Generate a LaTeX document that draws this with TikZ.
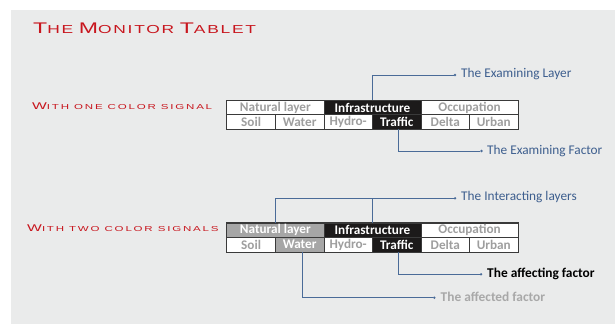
\documentclass[tikz,border=0pt]{standalone}
\usepackage{fontspec}
\setmainfont{Carlito}
\newfontfamily\headfont[FakeStretch=1.5,LetterSpace=15]{Liberation Sans}
\newfontfamily\signfont[FakeStretch=1.6,LetterSpace=25]{Liberation Sans}
\definecolor{panelbg}{HTML}{EAEBEB}
\definecolor{headred}{HTML}{C8161E}
\definecolor{leadblue}{HTML}{4A6B98}
\definecolor{leadtext}{HTML}{3D5E8E}
\definecolor{celltxt}{HTML}{9E9E9E}
\definecolor{cellgray}{HTML}{A6A6A6}
\definecolor{celldark}{HTML}{1C1A1A}
\definecolor{cellline}{HTML}{3A3A3A}
\definecolor{faded}{HTML}{A8A8A8}
% fake small caps: capital and lower-case sizes
\newcommand{\hdBig}[1]{{\fontsize{15.4}{16}\selectfont #1}}
\newcommand{\hdSml}[1]{{\fontsize{11.6}{12}\selectfont #1}}
\newcommand{\sgBig}[1]{{\fontsize{9.8}{10}\selectfont #1}}
\newcommand{\sgSml}[1]{{\fontsize{7.2}{8}\selectfont #1}}
\tikzset{
  cell/.style={draw=cellline, line width=0.8pt, fill=white, inner sep=0pt,
    minimum height=14.3pt, text=celltxt, font=\fontsize{13.2}{13}\selectfont\bfseries},
  wide/.style={cell, minimum width=97.1pt},
  narrow/.style={cell, minimum width=48.55pt},
  lowrow/.style={minimum height=14.5pt},
  darkcell/.style={fill=celldark, text=white},
  graycell/.style={fill=cellgray, text=white},
  lead/.style={draw=leadblue, line width=0.8pt},
  tip/.style={circle, fill=leadblue, inner sep=0pt, minimum size=2.6pt},
  leadlabel/.style={anchor=west, inner sep=0pt, text=leadtext, font=\fontsize{13.3}{14}\selectfont},
  heading/.style={anchor=base west, inner sep=0pt, text=headred},
}
\begin{document}
\begin{tikzpicture}[x=1pt, y=-1pt]
\useasboundingbox (0,0) rectangle (615,324);
\fill[panelbg] (11,10) rectangle (615,324);

% headings
\node[heading, font=\headfont] (title) at (33,33) {\hdBig{T}\hdSml{HE} \hdBig{M}\hdSml{ONITOR} \hdBig{T}\hdSml{ABLET}};
\node[heading, font=\signfont] (one) at (32,109) {\sgBig{W}\sgSml{ITH ONE COLOR SIGNAL}};
\node[heading, font=\signfont] (two) at (27,231.5) {\sgBig{W}\sgSml{ITH TWO COLOR SIGNALS}};

% ---- table with one colour signal ----
\node[wide] (a1) at (275.35,107.6) {Natural layer};
\node[wide, darkcell] (a2) at (372.45,107.6) {Infrastructure};
\node[wide] (a3) at (469.55,107.6) {Occupation};
\node[narrow] (b1) at (251.07,121.9) {Soil};
\node[narrow] (b2) at (299.62,121.9) {Water};
\node[narrow] (b3) at (348.17,121.9) {Hydro-};
\node[narrow, darkcell] (b4) at (396.72,121.9) {Traffic};
\node[narrow] (b5) at (445.27,121.9) {Delta};
\node[narrow] (b6) at (493.82,121.9) {Urban};
\draw[cellline, line width=1pt] (a1.north west) rectangle (b6.south east);

\node[tip] (ta) at (455,75) {};
\node[leadlabel] (la) at (461,74.5) {The Examining Layer};
\draw[lead] (a2.north) |- (ta);
\node[tip] (tb) at (481.5,151) {};
\node[leadlabel] (lb) at (487,151) {The Examining Factor};
\draw[lead] ([xshift=1.5pt]b4.south) |- (tb);

% ---- table with two colour signals ----
\node[wide, graycell] (c1) at (275.35,230.2) {Natural layer};
\node[wide, darkcell] (c2) at (372.45,230.2) {Infrastructure};
\node[wide] (c3) at (469.55,230.2) {Occupation};
\node[narrow, lowrow] (d1) at (251.07,244.7) {Soil};
\node[narrow, lowrow, graycell] (d2) at (299.62,244.7) {Water};
\node[narrow, lowrow] (d3) at (348.17,244.7) {Hydro-};
\node[narrow, lowrow, darkcell] (d4) at (396.72,244.7) {Traffic};
\node[narrow, lowrow] (d5) at (445.27,244.7) {\raisebox{-0.8pt}{Delta}};
\node[narrow, lowrow] (d6) at (493.82,244.7) {Urban};
\draw[cellline, line width=1pt] (c1.north west) rectangle (d6.south east);

\node[tip] (tc) at (455,198.3) {};
\node[leadlabel] (lc) at (461,196.8) {The Interacting layers};
\draw[lead] (c1.north) |- (tc);
\draw[lead] (c2.north) -- (c2.north |- tc);
\node[tip] (td) at (481,274.3) {};
\node[leadlabel, text=black, font=\fontsize{13.4}{14}\selectfont\bfseries] (ld) at (487,273.8) {The affecting factor};
\draw[lead] ([xshift=1.5pt]d4.south) |- (td);
\node[tip] (te) at (434.3,297.7) {};
\node[leadlabel, text=faded, font=\fontsize{13.4}{14}\selectfont\bfseries] (le) at (440.5,297.3) {The affected factor};
\draw[lead] ([xshift=2.5pt]d2.south) |- (te);
\end{tikzpicture}
\end{document}
